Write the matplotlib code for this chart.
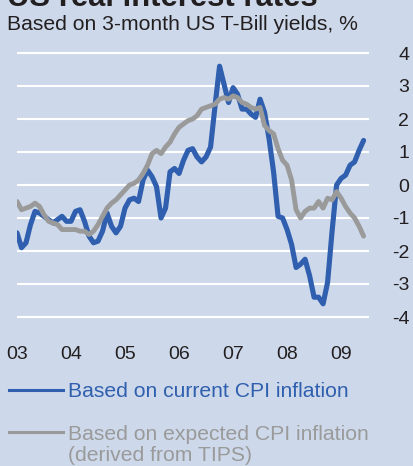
import numpy as np
import matplotlib
matplotlib.use("Agg")
import matplotlib.pyplot as plt

plt.rcParams['font.family'] = ['Liberation Sans', 'DejaVu Sans']

# monthly, Jan 2003 .. Jun 2009, %
current_cpi = [-1.45, -1.9, -1.75, -1.2, -0.8, -0.85, -0.95, -1.05, -1.15, -1.05,
               -0.95, -1.1, -1.1, -0.8, -0.75, -1.1, -1.55, -1.75, -1.7, -1.4,
               -0.85, -1.25, -1.45, -1.25, -0.7, -0.45, -0.4, -0.5, 0.15, 0.45,
               0.25, -0.05, -1.0, -0.7, 0.4, 0.5, 0.35, 0.75, 1.05, 1.1,
               0.85, 0.7, 0.85, 1.15, 2.4, 3.6, 3.05, 2.5, 2.95, 2.75,
               2.3, 2.3, 2.15, 2.05, 2.6, 2.2, 1.4, 0.4, -0.95, -1.0,
               -1.35, -1.8, -2.5, -2.4, -2.25, -2.75, -3.4, -3.4, -3.6, -2.95,
               -1.4, 0.0, 0.2, 0.3, 0.6, 0.7, 1.05, 1.35]
expected_cpi = [-0.5, -0.75, -0.7, -0.65, -0.55, -0.65, -0.9, -1.1, -1.15, -1.2,
                -1.35, -1.35, -1.35, -1.35, -1.4, -1.4, -1.5, -1.4, -1.2, -0.95,
                -0.7, -0.55, -0.45, -0.3, -0.15, 0.0, 0.05, 0.15, 0.35, 0.6,
                0.95, 1.05, 0.95, 1.15, 1.3, 1.55, 1.75, 1.85, 1.95, 2.0,
                2.1, 2.3, 2.35, 2.4, 2.45, 2.6, 2.65, 2.6, 2.7, 2.65,
                2.5, 2.45, 2.35, 2.3, 2.35, 1.8, 1.65, 1.55, 1.1, 0.75,
                0.6, 0.15, -0.75, -1.0, -0.8, -0.7, -0.7, -0.5, -0.7, -0.4,
                -0.45, -0.2, -0.4, -0.65, -0.85, -1.0, -1.25, -1.55]
year_labels = ['03', '04', '05', '06', '07', '08', '09']
y_ticks = [4, 3, 2, 1, 0, -1, -2, -3, -4]

bg = '#cdd9ea'
blue = '#2f5fae'
grey = '#9a9a9a'
ink = '#231f20'

W, H = 414, 466
fig = plt.figure(figsize=(W / 100, H / 100), dpi=100, facecolor=bg)

# axes box in pixels: x 17..369, y 36.5..333.5
ax = fig.add_axes([17 / W, 1 - 333.5 / H, 352 / W, 297 / H])
ax.set_facecolor(bg)
for s in ax.spines.values():
    s.set_visible(False)

months = np.arange(len(current_cpi))
ax.plot(months, current_cpi, color=blue, lw=3.7, solid_joinstyle='round',
        solid_capstyle='round', zorder=3)
ax.plot(months, expected_cpi, color=grey, lw=3.5, solid_joinstyle='round',
        solid_capstyle='round', zorder=4)

ax.set_xlim(0, 78.2)
ax.set_ylim(-4.5, 4.5)
ax.set_xticks(np.arange(len(year_labels)) * 12)
ax.set_xticklabels(year_labels)
ax.set_yticks(y_ticks)
ax.set_yticklabels([str(v) for v in y_ticks])
ax.yaxis.tick_right()
ax.tick_params(axis='both', length=0, labelsize=14, colors=ink)
ax.tick_params(axis='y', pad=29)
ax.tick_params(axis='x', pad=9)
for lab in ax.get_yticklabels():
    lab.set_ha('right')
ax.grid(axis='y', color='white', lw=1.5, zorder=1)
ax.grid(axis='x', visible=False)

# title (cropped at the top edge) and subtitle
fig.text(7 / W, 1 - 6 / H, 'US real interest rates', fontsize=22.3,
         fontweight='bold', color=ink, ha='left', va='baseline')
fig.text(7 / W, 1 - 30 / H, 'Based on 3-month US T-Bill yields, %', fontsize=15.2,
         color=ink, ha='left', va='baseline')

# legend
fig.add_artist(plt.Line2D([9 / W, 63 / W], [1 - 390 / H, 1 - 390 / H],
                          color=blue, lw=2.2))
fig.text(68 / W, 1 - 397 / H, 'Based on current CPI inflation', fontsize=15.2,
         color=blue, ha='left', va='baseline')
fig.add_artist(plt.Line2D([9 / W, 63 / W], [1 - 432 / H, 1 - 432 / H],
                          color=grey, lw=2.2))
fig.text(68 / W, 1 - 440 / H, 'Based on expected CPI inflation', fontsize=15.2,
         color=grey, ha='left', va='baseline')
fig.text(68 / W, 1 - 461 / H, '(derived from TIPS)', fontsize=15.2,
         color=grey, ha='left', va='baseline')

fig.savefig('out.png', dpi=100, facecolor=bg)
